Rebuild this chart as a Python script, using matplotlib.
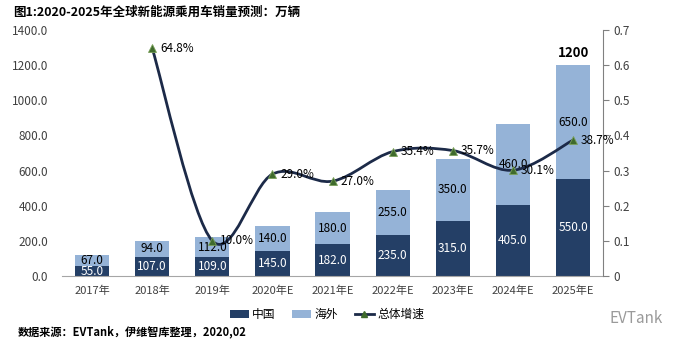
import matplotlib
matplotlib.use("Agg")
import matplotlib.pyplot as plt
from matplotlib.patches import Patch, PathPatch
from matplotlib.lines import Line2D
from matplotlib.path import Path
from matplotlib.ticker import FuncFormatter, MultipleLocator

plt.rcParams["font.family"] = ["Noto Sans CJK SC", "DejaVu Sans"]

years = ["2017年", "2018年", "2019年", "2020年E", "2021年E", "2022年E", "2023年E", "2024年E", "2025年E"]
china = [55, 107, 109, 145, 182, 235, 315, 405, 550]
overseas = [67, 94, 112, 140, 180, 255, 350, 460, 650]
growth = [None, 0.648, 0.100, 0.290, 0.270, 0.354, 0.357, 0.301, 0.387]

dark = "#243f66"
light = "#95b3d7"
line_color = "#1c2a48"
marker_color = "#3f6b2c"
text_color = "#404040"

fig = plt.figure(figsize=(6.74, 3.42), dpi=100)
ax = fig.add_axes([0.092, 0.193, 0.803, 0.719])
x = list(range(len(years)))
width = 0.57

ax.bar(x, china, width, color=dark)
ax.bar(x, overseas, width, bottom=china, color=light)

for i, (c, o) in enumerate(zip(china, overseas)):
    ax.text(i, c / 2, f"{c:.1f}", ha="center", va="center", color="white", fontsize=8.5)
    ax.text(i, c + o / 2, f"{o:.1f}", ha="center", va="center", color="black", fontsize=8.5)
ax.text(x[-1], china[-1] + overseas[-1] + 30, f"{china[-1] + overseas[-1]}",
        ha="center", va="bottom", fontsize=9.5, fontweight="bold")

ax.set_xlim(-0.5, len(years) - 0.5)
ax.set_ylim(0, 1400)
ax.yaxis.set_major_locator(MultipleLocator(200))
ax.yaxis.set_major_formatter(FuncFormatter(lambda v, _: f"{v:.1f}"))
ax.set_xticks(x)
ax.set_xticklabels(years)
ax.tick_params(axis="x", length=0, labelsize=8, labelcolor=text_color, pad=7)
ax.tick_params(axis="y", length=0, labelsize=8.5, labelcolor=text_color, pad=10)
for side in ["top", "right", "left"]:
    ax.spines[side].set_visible(False)
ax.spines["bottom"].set_color("#a6a6a6")

ax2 = ax.twinx()
ax2.set_ylim(0, 0.7)
ax2.yaxis.set_major_locator(MultipleLocator(0.1))
ax2.yaxis.set_major_formatter(FuncFormatter(lambda v, _: "0" if abs(v) < 1e-9 else f"{v:.1f}"))
ax2.tick_params(axis="y", direction="out", length=4, color="#808080",
                labelsize=8.5, labelcolor=text_color)
for side in ["top", "left", "bottom"]:
    ax2.spines[side].set_visible(False)
ax2.spines["right"].set_color("#808080")

# smoothed growth line (Catmull-Rom through the data points)
pts = [(i, g) for i, g in enumerate(growth) if g is not None]
verts = [pts[0]]
codes = [Path.MOVETO]
for k in range(len(pts) - 1):
    p0 = pts[k - 1] if k > 0 else pts[k]
    p1, p2 = pts[k], pts[k + 1]
    p3 = pts[k + 2] if k + 2 < len(pts) else pts[k + 1]
    c1 = (p1[0] + (p2[0] - p0[0]) / 6, p1[1] + (p2[1] - p0[1]) / 6)
    c2 = (p2[0] - (p3[0] - p1[0]) / 6, p2[1] - (p3[1] - p1[1]) / 6)
    verts += [c1, c2, p2]
    codes += [Path.CURVE4] * 3
ax2.add_patch(PathPatch(Path(verts, codes), facecolor="none", edgecolor=line_color, lw=2))
gx = [p[0] for p in pts]
gy = [p[1] for p in pts]
ax2.plot(gx, gy, linestyle="none", marker="^", markersize=6,
         markerfacecolor=marker_color, markeredgecolor="#7aa05a", markeredgewidth=0.6)
for px, py in pts:
    ax2.text(px + 0.13, py, f"{py * 100:.1f}%", ha="left", va="center", fontsize=8.5)

fig.text(0.02, 0.963, "图1:2020-2025年全球新能源乘用车销量预测：万辆",
         fontsize=9, fontweight="bold", va="center")
fig.text(0.026, 0.03, "数据来源：EVTank，伊维智库整理，2020,02",
         fontsize=8, fontweight="bold", va="center")
fig.text(0.984, 0.07, "EVTank", fontsize=11, color="#9a9a9a", ha="right", va="center")

handles = [
    Patch(facecolor=dark, label="中国"),
    Patch(facecolor=light, label="海外"),
    Line2D([0], [0], color=line_color, lw=2, marker="^", markersize=5,
           markerfacecolor=marker_color, markeredgecolor=marker_color, label="总体增速"),
]
fig.legend(handles=handles, loc="center", bbox_to_anchor=(0.485, 0.08), ncol=3,
           frameon=False, fontsize=8.5, handlelength=1.6, handleheight=0.6,
           columnspacing=1.4, handletextpad=0.3)

fig.savefig("out.png", dpi=100)
